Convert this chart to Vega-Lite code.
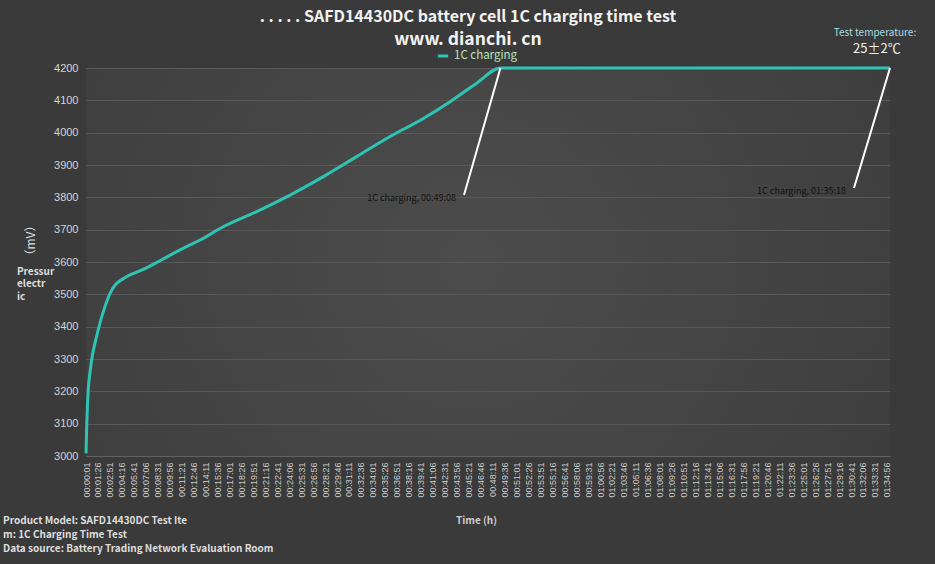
{
  "$schema": "https://vega.github.io/schema/vega-lite/v6.json",
  "description": "SAFD14430DC battery cell 1C charging time test",
  "width": 804,
  "height": 388,
  "autosize": {"type": "none"},
  "padding": {"left": 86, "top": 68, "right": 45, "bottom": 108},
  "background": "#3a3a3a",
  "title": {
    "text": ". . . . . SAFD14430DC battery cell 1C charging time test",
    "subtitle": "www. dianchi. cn",
    "anchor": "middle",
    "dx": -20,
    "dy": 40,
    "offset": 20,
    "font": "Noto Sans CJK SC",
    "fontSize": 16,
    "fontWeight": "bold",
    "color": "#f2f2f2",
    "subtitleFont": "Noto Sans CJK SC",
    "subtitleFontSize": 17.5,
    "subtitleFontWeight": "bold",
    "subtitleColor": "#f2f2f2",
    "subtitlePadding": 6
  },
  "datasets": {
    "charge": [
      {"time_s": 1, "voltage_mV": 3008, "series": "1C charging"},
      {"time_s": 6, "voltage_mV": 3090, "series": "1C charging"},
      {"time_s": 17, "voltage_mV": 3204, "series": "1C charging"},
      {"time_s": 30, "voltage_mV": 3260, "series": "1C charging"},
      {"time_s": 41, "voltage_mV": 3297, "series": "1C charging"},
      {"time_s": 60, "voltage_mV": 3340, "series": "1C charging"},
      {"time_s": 76, "voltage_mV": 3369, "series": "1C charging"},
      {"time_s": 100, "voltage_mV": 3411, "series": "1C charging"},
      {"time_s": 136, "voltage_mV": 3462, "series": "1C charging"},
      {"time_s": 172, "voltage_mV": 3503, "series": "1C charging"},
      {"time_s": 207, "voltage_mV": 3528, "series": "1C charging"},
      {"time_s": 243, "voltage_mV": 3542, "series": "1C charging"},
      {"time_s": 280, "voltage_mV": 3552, "series": "1C charging"},
      {"time_s": 314, "voltage_mV": 3560, "series": "1C charging"},
      {"time_s": 408, "voltage_mV": 3577, "series": "1C charging"},
      {"time_s": 527, "voltage_mV": 3604, "series": "1C charging"},
      {"time_s": 646, "voltage_mV": 3632, "series": "1C charging"},
      {"time_s": 741, "voltage_mV": 3653, "series": "1C charging"},
      {"time_s": 812, "voltage_mV": 3668, "series": "1C charging"},
      {"time_s": 977, "voltage_mV": 3709, "series": "1C charging"},
      {"time_s": 1215, "voltage_mV": 3756, "series": "1C charging"},
      {"time_s": 1452, "voltage_mV": 3807, "series": "1C charging"},
      {"time_s": 1689, "voltage_mV": 3864, "series": "1C charging"},
      {"time_s": 1926, "voltage_mV": 3926, "series": "1C charging"},
      {"time_s": 2163, "voltage_mV": 3988, "series": "1C charging"},
      {"time_s": 2400, "voltage_mV": 4044, "series": "1C charging"},
      {"time_s": 2590, "voltage_mV": 4096, "series": "1C charging"},
      {"time_s": 2779, "voltage_mV": 4153, "series": "1C charging"},
      {"time_s": 2948, "voltage_mV": 4200, "series": "1C charging"},
      {"time_s": 5718, "voltage_mV": 4200, "series": "1C charging"}
    ],
    "marks": [
      {"time_s": 2948, "voltage_mV": 4200, "label": "1C charging, 00:49:08", "label_time_s": 2689, "label_mV": 3807},
      {"time_s": 5718, "voltage_mV": 4200, "label": "1C charging, 01:35:18", "label_time_s": 5462, "label_mV": 3829}
    ]
  },
  "layer": [
    {
      "data": {"name": "charge"},
      "mark": {"type": "line", "interpolate": "monotone", "strokeWidth": 3},
      "encoding": {
        "x": {
          "field": "time_s",
          "type": "quantitative",
          "scale": {"domain": [1, 5718], "nice": false, "zero": false},
          "axis": {
            "title": "Time (h)",
            "values": [1, 86, 171, 256, 341, 426, 511, 596, 681, 766, 851, 936, 1021, 1106, 1191, 1276, 1361, 1446, 1531, 1616, 1701, 1786, 1871, 1956, 2041, 2126, 2211, 2296, 2381, 2466, 2551, 2636, 2721, 2806, 2891, 2976, 3061, 3146, 3231, 3316, 3401, 3486, 3571, 3656, 3741, 3826, 3911, 3996, 4081, 4166, 4251, 4336, 4421, 4506, 4591, 4676, 4761, 4846, 4931, 5016, 5101, 5186, 5271, 5356, 5441, 5526, 5611, 5696],
            "tickCount": 200,
            "labelExpr": "utcFormat(datum.value * 1000, '%H:%M:%S')",
            "labelAngle": 270,
            "labelFont": "Liberation Sans",
            "labelFontSize": 9,
            "labelColor": "#cccccc",
            "labelPadding": 6,
            "labelOverlap": false,
            "labelFlush": false,
            "labelBound": false,
            "ticks": false,
            "grid": false,
            "domain": true,
            "domainColor": "#626262",
            "titleFont": "Noto Sans CJK SC",
            "titleFontSize": 10,
            "titleFontWeight": "bold",
            "titleColor": "#cccccc",
            "titleX": 390,
            "titleY": 64,
            "titleBaseline": "middle"
          }
        },
        "y": {
          "field": "voltage_mV",
          "type": "quantitative",
          "scale": {"domain": [3000, 4200], "nice": false, "zero": false},
          "axis": {
            "title": "（mV）",
            "values": [3000, 3100, 3200, 3300, 3400, 3500, 3600, 3700, 3800, 3900, 4000, 4100, 4200],
            "tickCount": 50,
            "format": "d",
            "labelFont": "Liberation Sans",
            "labelFontSize": 11,
            "labelColor": "#d4d4d4",
            "labelPadding": 8,
            "labelOverlap": false,
            "ticks": false,
            "domain": false,
            "gridColor": "#585858",
            "gridWidth": 1,
            "titleFont": "Noto Sans CJK SC",
            "titleFontSize": 12,
            "titleFontWeight": "normal",
            "titleColor": "#dddddd",
            "titleAngle": 270,
            "titleX": -56,
            "titleY": 172,
            "titleAlign": "center",
            "titleBaseline": "middle"
          }
        },
        "color": {
          "field": "series",
          "type": "nominal",
          "scale": {"range": ["#2ec4b4"]},
          "legend": {
            "title": null,
            "orient": "none",
            "legendX": 350,
            "legendY": -19,
            "symbolType": "stroke",
            "symbolStrokeWidth": 3,
            "symbolSize": 110,
            "labelFont": "Noto Sans CJK SC",
            "labelFontSize": 11.5,
            "labelColor": "#bde6bd"
          }
        }
      }
    },
    {
      "data": {"name": "marks"},
      "mark": {"type": "rule", "color": "#ffffff", "strokeWidth": 2},
      "encoding": {
        "x": {"field": "time_s", "type": "quantitative"},
        "y": {"field": "voltage_mV", "type": "quantitative"},
        "x2": {"field": "label_time_s"},
        "y2": {"field": "label_mV"}
      }
    },
    {
      "data": {"name": "marks"},
      "mark": {"type": "text", "align": "right", "baseline": "middle", "dx": -8, "dy": 3, "font": "Noto Sans CJK SC", "fontSize": 9, "color": "#111111"},
      "encoding": {
        "x": {"field": "label_time_s", "type": "quantitative"},
        "y": {"field": "label_mV", "type": "quantitative"},
        "text": {"field": "label", "type": "nominal"}
      }
    },
    {
      "data": {"values": [{"note": "Pressur\nelectr\nic"}]},
      "mark": {"type": "text", "align": "left", "baseline": "top", "lineBreak": "\n", "lineHeight": 12.5, "font": "Noto Sans CJK SC", "fontSize": 10, "fontWeight": "bold", "color": "#dddddd"},
      "encoding": {
        "x": {"datum": -490, "type": "quantitative"},
        "y": {"datum": 3585, "type": "quantitative"},
        "text": {"field": "note", "type": "nominal"}
      }
    },
    {
      "data": {"values": [{"note": "Test temperature:"}]},
      "mark": {"type": "text", "align": "center", "baseline": "middle", "font": "Noto Sans CJK SC", "fontSize": 10, "color": "#a9dce3"},
      "encoding": {
        "x": {"datum": 5611, "type": "quantitative"},
        "y": {"datum": 4308, "type": "quantitative"},
        "text": {"field": "note", "type": "nominal"}
      }
    },
    {
      "data": {"values": [{"note": "25±2℃"}]},
      "mark": {"type": "text", "align": "center", "baseline": "middle", "font": "Noto Sans CJK SC", "fontSize": 13, "color": "#eeeeee"},
      "encoding": {
        "x": {"datum": 5625, "type": "quantitative"},
        "y": {"datum": 4259, "type": "quantitative"},
        "text": {"field": "note", "type": "nominal"}
      }
    },
    {
      "data": {"values": [{"note": "Product Model: SAFD14430DC Test Ite\nm: 1C Charging Time Test\nData source: Battery Trading Network Evaluation Room"}]},
      "mark": {"type": "text", "align": "left", "baseline": "top", "lineBreak": "\n", "lineHeight": 14, "font": "Noto Sans CJK SC", "fontSize": 10, "fontWeight": "bold", "color": "#dddddd"},
      "encoding": {
        "x": {"datum": -589, "type": "quantitative"},
        "y": {"datum": 2814, "type": "quantitative"},
        "text": {"field": "note", "type": "nominal"}
      }
    }
  ],
  "config": {
    "view": {
      "stroke": null,
      "fill": {
        "gradient": "radial",
        "x1": 0.48, "y1": 0.5, "x2": 0.48, "y2": 0.5, "r1": 0, "r2": 0.75,
        "stops": [
          {"offset": 0, "color": "#4c4c4c"},
          {"offset": 1, "color": "#3a3a3a"}
        ]
      }
    }
  }
}
